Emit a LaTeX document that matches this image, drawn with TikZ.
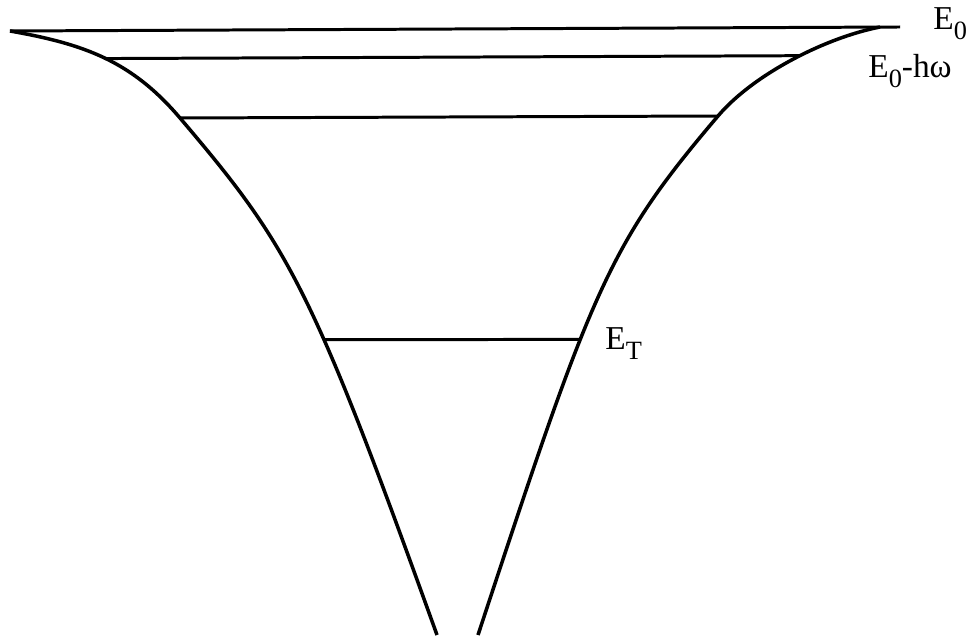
\documentclass[tikz,border=0pt]{standalone}
\usepackage{fontspec}
\setmainfont{Liberation Serif}
\usepackage{tikz}
\usetikzlibrary{positioning,intersections}
\newcommand{\lvsub}[1]{\raisebox{-5.5pt}{\fontsize{15}{15}\selectfont #1}}

\begin{document}
\begin{tikzpicture}[x=0.02cm, y=0.02cm, font=\fontsize{19}{22}\selectfont]
\tikzset{well/.style={line width=2pt, line join=round}, level/.style={line width=1.7pt}}
\useasboundingbox (0,0) rectangle (966,639);
% rim and bottom of the well
\coordinate (l0) at (10,608);  \coordinate (r0) at (880,612);
\coordinate (l2) at (180,521); \coordinate (r2) at (718,523);
\coordinate (lb) at (437,4);   \coordinate (rb) at (478,4);
\coordinate (top) at (900,612);
% walls
\draw[well, name path=wl] (l0) .. controls (83.9,595) and (131.4,578.2) .. (l2)
  .. controls (290.2,391.5) and (311.6,352.2) .. (lb);
\draw[well, name path=wr] (r0) .. controls (825.8,601.4) and (753.6,564.9) .. (r2)
  .. controls (607.8,393.5) and (592.2,350.7) .. (rb);
% levels
\path[name path=h1] (0,580) -- (966,584);
\path[name path=ht] (0,299) -- (966,300);
\path[name intersections={of=wl and h1, by=l1}];
\path[name intersections={of=wr and h1, by=r1}];
\path[name intersections={of=wl and ht, by=lt}];
\path[name intersections={of=wr and ht, by=rt}];
\draw[level] (l0) -- (top);
\draw[level] (l1) -- (r1);
\draw[level] (l2) -- (r2);
\draw[level] (lt) -- (rt);
\node[anchor=base west, inner sep=0pt] (e0) at (933,609) {E\lvsub{0}};
\node[anchor=base west, inner sep=0pt] (ehw) at (868,561) {E\lvsub{0}-hω};
\node[anchor=base west, inner sep=0pt] (et) at (605,289) {E\lvsub{T}};
\end{tikzpicture}
\end{document}
